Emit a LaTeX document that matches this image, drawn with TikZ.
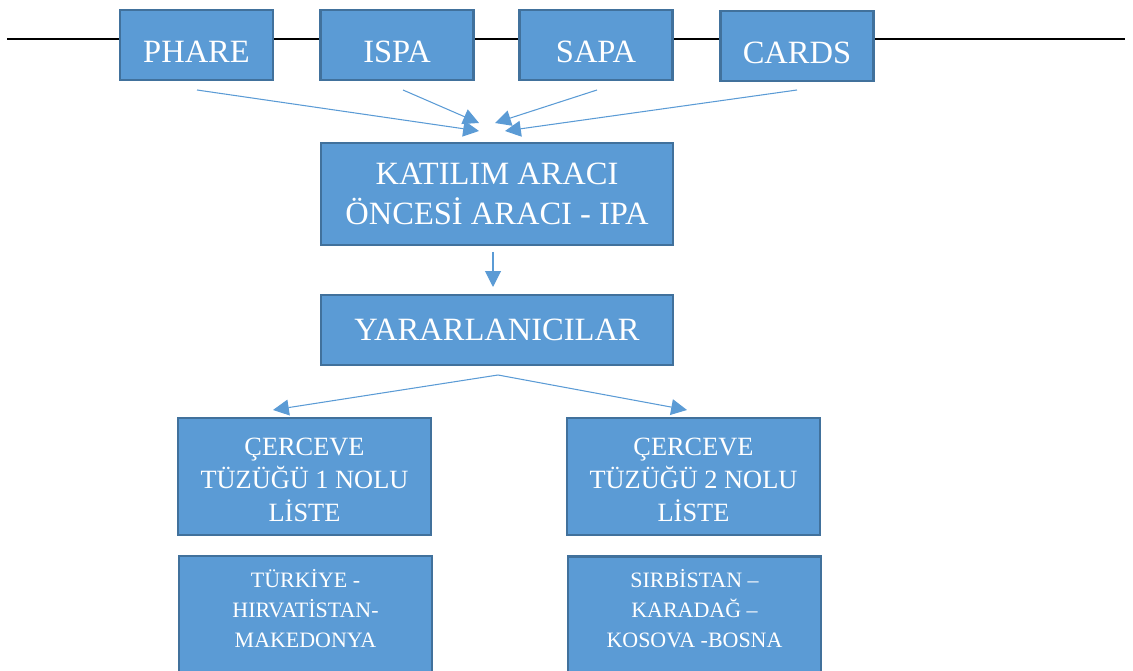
\documentclass[tikz,border=0pt]{standalone}
\usepackage{fontspec}
\setmainfont{Liberation Serif}
\usetikzlibrary{arrows.meta}
\definecolor{boxfill}{HTML}{5B9BD5}
\definecolor{boxline}{HTML}{41719C}
\tikzset{
  blok/.style={draw=boxline, line width=1.2pt, fill=boxfill, text=white, align=center, inner sep=0pt},
  fonbox/.style={blok, minimum width=3.06cm, minimum height=1.4cm, text height=0.72cm, text depth=0cm, font=\fontsize{18.5}{22.7}\selectfont},
  anabox/.style={blok, minimum width=7.04cm, font=\fontsize{18.5}{22.7}\selectfont},
  listebox/.style={blok, minimum width=5.06cm, minimum height=2.34cm, font=\fontsize{15}{18.7}\selectfont},
  ulkebox/.style={blok, minimum width=5.06cm, minimum height=2.34cm, font=\fontsize{12.5}{17}\selectfont},
  ok/.style={draw=boxfill, line width=0.6pt, -{Triangle[length=9pt,width=9pt]}}
}
\begin{document}
\begin{tikzpicture}[x=0.02cm, y=-0.02cm]
			%%%%% START %%%%%
			\clip (0, 0) rectangle (1133, 671);
			
			\draw[line width=1.1pt] (7, 39) -- (1125, 39);
			
			\node[fonbox] (phare) at (196.5, 45) {PHARE};
			\node[fonbox] (ispa) at (397, 45) {ISPA};
			\node[fonbox] (sapa) at (596, 45) {SAPA};
			\node[fonbox] (cards) at (797, 46) {CARDS};
			
			\node[anabox, minimum height=2.04cm] (ipa) at (497, 194) {KATILIM ARACI\\ÖNCESİ ARACI - IPA};
			\node[anabox, minimum height=1.4cm] (yarar) at (497, 330) {YARARLANICILAR};
			
			\node[listebox] (liste1) at (304.5, 476.5) {\rule{0pt}{0.48cm}ÇERCEVE\\TÜZÜĞÜ 1 NOLU\\LİSTE};
			\node[listebox] (liste2) at (693.5, 476.5) {\rule{0pt}{0.48cm}ÇERCEVE\\TÜZÜĞÜ 2 NOLU\\LİSTE};
			
			\node[ulkebox] (ulke1) at (305.5, 614.5) {TÜRKİYE -\\HIRVATİSTAN-\\MAKEDONYA\rule[-0.25cm]{0pt}{0.25cm}};
			\node[ulkebox] (ulke2) at (694.5, 615) {SIRBİSTAN –\\KARADAĞ –\\KOSOVA -BOSNA\rule[-0.25cm]{0pt}{0.25cm}};
			
			% arrows into IPA
			\coordinate (phareout) at (197, 90);
			\coordinate (ispaout) at (403, 90);
			\coordinate (sapaout) at (597, 90);
			\coordinate (cardsout) at (797, 90);
			\coordinate (phareend) at (479, 131);
			\coordinate (ispaend) at (479, 123);
			\coordinate (sapaend) at (495, 123);
			\coordinate (cardsend) at (505, 131);
			\draw[ok] (phareout) -- (phareend);
			\draw[ok] (ispaout) -- (ispaend);
			\draw[ok] (sapaout) -- (sapaend);
			\draw[ok] (cardsout) -- (cardsend);
			
			\coordinate (ipaout) at (493, 252);
			\coordinate (yararend) at (493, 287);
			\draw[ok] (ipaout) -- (yararend);
			
			\coordinate (yararout) at (498, 375);
			\coordinate (liste1end) at (273, 410);
			\coordinate (liste2end) at (687, 410);
			\draw[ok] (yararout) -- (liste1end);
			\draw[ok] (yararout) -- (liste2end);
			%%%%% END %%%%%
\end{tikzpicture}
\end{document}
